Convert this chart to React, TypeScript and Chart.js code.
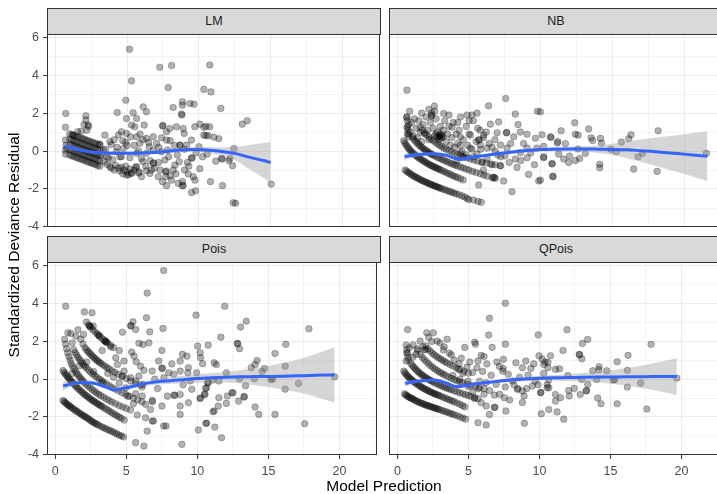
import React, { useEffect, useRef } from "react";
import { Chart, registerables } from "chart.js";
Chart.register(...registerables);

const FONT = '"Liberation Sans", Arial, Helvetica, sans-serif';
Chart.defaults.font.family = FONT;

// ---------- axes ----------
const xMajorTicks = [0, 5, 10, 15, 20];
const xMinorTicks = [2.5, 7.5, 12.5, 17.5, 22.5];
const yMajorTicks = [-4, -2, 0, 2, 4, 6];
const yMinorTicks = [-3, -1, 1, 3, 5];
const xRange = [-0.58, 22.62];
const yRange = [-4.0, 6.17];
const panelTitles = ["LM", "NB", "Pois", "QPois"];
const xAxisTitle = "Model Prediction";
const yAxisTitle = "Standardized Deviance Residual";

// ---------- LM ----------
const lmBandX = [1.0, 1.15, 1.3, 1.45, 1.6, 1.75, 1.9, 2.05, 2.2, 2.35, 2.5, 2.65, 2.8, 2.95, 3.1];
const lmBand0 = [-0.21, -0.25, -0.29, -0.34, -0.38, -0.42, -0.46, -0.5, -0.55, -0.59, -0.63, -0.67, -0.71, -0.76, -0.8];
const lmBand1 = [0.07, 0.03, -0.01, -0.06, -0.1, -0.14, -0.18, -0.22, -0.27, -0.31, -0.35, -0.39, -0.43, -0.48, -0.52];
const lmBand2 = [0.35, 0.31, 0.27, 0.22, 0.18, 0.14, 0.1, 0.06, 0.01, -0.03, -0.07, -0.11, -0.15, -0.2, -0.24];
const lmBand3 = [0.63, 0.59, 0.55, 0.5, 0.46, 0.42, 0.38, 0.34, 0.29, 0.25, 0.21, 0.17, 0.13, 0.08, 0.04];
const lmBand4 = [0.91, 0.87, 0.83, 0.78, 0.74, 0.7, 0.66, 0.62, 0.57, 0.53, 0.49, 0.45, 0.41, 0.36, 0.32];
const lmScatter = [
  [0.73, 1.98], [0.71, 1.25], [0.71, 0.58], [0.71, 0.05], [0.72, -0.16], [0.75, 0.3], [0.8, 0.15],
  [1.24, 0.84], [1.55, 1.02], [2.0, 1.4], [2.13, 1.86], [2.13, 1.63], [2.29, 1.37], [2.3, 1.3], [2.2, 1.1], [1.8, 1.05],
  [3.1, 0.37], [3.45, 0.84], [4.31, 2.03], [4.91, 2.68], [5.17, 5.37], [5.31, 3.7], [4.96, 1.72], [5.42, 2.02],
  [5.66, 1.72], [6.12, 2.33], [6.35, 2.07], [6.19, 1.37], [5.31, 1.37], [5.54, 1.28], [4.61, 1.02], [4.96, 0.93],
  [5.24, 0.75], [5.66, 0.75], [5.89, 0.4], [6.35, 0.67], [6.82, 0.75], [7.05, 0.4], [7.28, 4.42], [8.1, 4.51],
  [7.86, 3.35], [8.21, 2.3], [7.47, 1.32], [7.5, 1.35], [7.75, 1.02], [7.98, 1.19], [8.44, 1.28], [8.86, 2.6],
  [8.86, 2.42], [8.79, 1.95], [8.82, 1.9], [8.91, 1.19], [8.98, 0.93], [9.38, 2.51], [9.66, 2.47], [10.76, 4.54],
  [10.35, 3.25], [10.84, 3.12], [11.53, 2.25], [10.07, 1.42], [10.35, 1.25], [10.76, 1.28], [9.72, 1.28], [10.5, 1.3],
  [9.15, 0.32], [9.49, 0.58], [10.0, 0.23], [10.35, 0.84], [10.5, 0.82], [10.65, 0.81], [11.05, 0.73], [11.39, 0.65],
  [12.44, 0.14], [12.16, -0.39], [12.35, -0.77], [11.58, -0.39], [11.62, -0.42], [11.18, -0.53], [10.26, -0.3],
  [10.58, -0.16], [10.81, -1.61], [11.65, -1.82], [12.39, -2.72], [12.56, -2.75], [10.07, -0.93], [9.49, -0.35],
  [9.52, -0.38], [9.61, -1.35], [9.72, -1.53], [9.49, -2.19], [9.77, -2.09], [9.26, -1.21], [8.86, -1.61],
  [8.86, -1.84], [8.9, -1.8], [8.56, -1.7], [8.21, -1.0], [8.33, -0.74], [8.63, -0.56], [8.68, 0.32], [8.7, 0.3],
  [7.75, 0.58], [7.82, 0.05], [7.4, -0.04], [7.63, -0.47], [7.7, -1.09], [7.72, -1.05], [7.7, -1.35], [7.47, -1.61],
  [7.75, -1.82], [8.1, -1.53], [7.17, -1.35], [6.82, -0.65], [6.85, -0.62], [6.82, 0.05], [6.54, 0.23], [6.35, -0.12],
  [6.7, -1.0], [6.35, -1.04], [6.0, -1.35], [5.84, -1.09], [5.66, -0.82], [4.5, -0.3], [4.26, -0.04], [4.73, 0.14],
  [3.8, -0.82], [3.57, -0.3], [3.34, 0.05], [5.66, -0.12], [6.0, -0.39], [6.59, -1.18], [13.02, 1.42], [13.37, 1.6],
  [12.09, -0.51], [15.04, -1.74], [4.2, -0.75], [4.4, -0.9], [4.6, -0.85], [4.8, -1.0], [4.9, -0.8], [5.0, -1.1],
  [5.2, -0.95], [5.3, -1.15], [5.5, -1.0], [5.6, -0.85], [5.8, -1.15], [4.5, -1.05], [4.7, -1.2], [5.1, -1.25],
  [3.9, -0.9], [4.1, -1.0], [3.6, -0.7], [3.4, -0.55], [3.2, -0.2], [3.5, 0.1], [3.7, -0.35], [4.0, -0.45],
  [3.9, 0.35], [4.3, 0.2], [4.6, -0.3], [4.9, 0.45], [5.2, -0.35], [5.5, 0.3], [5.8, 0.0], [6.1, -0.55], [6.3, -0.8],
  [6.6, -0.5], [4.96, -1.26], [5.31, -1.18], [4.1, 0.6], [4.4, 0.85], [3.8, 0.5], [4.7, 0.55], [5.0, 0.3],
  [5.9, 0.9], [6.1, 0.6], [6.5, 0.45], [7.2, 0.2], [7.4, 0.7], [8.0, 0.55], [8.3, 0.3], [9.0, 0.1], [9.2, -0.6],
  [9.8, -0.1], [8.5, -0.2], [7.9, -0.3], [7.2, -0.6], [6.9, -0.9], [7.3, -1.0], [8.0, -1.3], [8.4, -1.2],
  [9.0, -1.0], [9.3, -0.8],
];
const lmSmoothX = [0.7, 1.5, 2.5, 3.5, 4.5, 5.5, 6.5, 7.5, 8.5, 9.5, 10.5, 11.5, 12.5, 13.5, 14.5, 15.0];
const lmSmoothY = [0.28, 0.1, -0.05, -0.1, -0.12, -0.12, -0.08, -0.03, 0.05, 0.08, 0.06, -0.01, -0.12, -0.32, -0.5, -0.6];
const lmLower = [0.11, 0.0, -0.13, -0.18, -0.2, -0.21, -0.18, -0.14, -0.07, -0.05, -0.09, -0.21, -0.45, -0.95, -1.42, -1.72];
const lmUpper = [0.45, 0.2, 0.03, -0.02, -0.04, -0.03, 0.02, 0.08, 0.17, 0.21, 0.21, 0.19, 0.21, 0.32, 0.42, 0.48];

// ---------- NB ----------
const nbArc0X = [0.55, 0.65, 0.75, 0.85, 0.95, 1.05, 1.15, 1.25, 1.35, 1.45, 1.55, 1.65, 1.75, 1.85, 1.95, 2.05, 2.15, 2.25, 2.35, 2.45, 2.55, 2.65, 2.75, 2.85, 2.95, 3.05, 3.2, 3.35, 3.5, 3.65, 3.8, 3.95, 4.1, 4.3, 4.5, 4.7, 4.86, 4.98, 5.3, 5.62, 5.85];
const nbArc0Y = [-1.0, -1.06, -1.12, -1.17, -1.22, -1.27, -1.32, -1.36, -1.4, -1.44, -1.48, -1.52, -1.56, -1.59, -1.63, -1.66, -1.7, -1.73, -1.76, -1.79, -1.82, -1.85, -1.88, -1.91, -1.94, -1.97, -2.01, -2.05, -2.09, -2.13, -2.17, -2.21, -2.25, -2.3, -2.36, -2.42, -2.5, -2.55, -2.58, -2.65, -2.7];
const nbArc1X = [0.45, 0.52, 0.6, 0.68, 0.76, 0.84, 0.92, 1.0, 1.1, 1.2, 1.3, 1.4, 1.5, 1.6, 1.7, 1.8, 1.9, 2.0, 2.1, 2.2, 2.3, 2.4, 2.5, 2.6, 2.7, 2.8, 2.9, 3.0, 3.15, 3.3, 3.45, 3.6, 3.75, 3.9, 4.05, 4.2, 4.4, 4.6];
const nbArc1Y = [0.55, 0.44, 0.34, 0.25, 0.17, 0.09, 0.02, -0.04, -0.11, -0.18, -0.24, -0.3, -0.36, -0.41, -0.46, -0.51, -0.56, -0.6, -0.65, -0.69, -0.74, -0.77, -0.81, -0.85, -0.88, -0.92, -0.95, -0.99, -1.04, -1.09, -1.15, -1.2, -1.25, -1.3, -1.35, -1.4, -1.46, -1.52];
const nbArc2X = [1.05, 1.15, 1.25, 1.35, 1.45, 1.55, 1.65, 1.75, 1.85, 1.95, 2.05, 2.15, 2.25, 2.35, 2.45, 2.55, 2.7, 2.85, 3.0, 3.15, 3.3, 3.45, 3.6, 3.75, 3.9, 4.05, 4.2, 4.4, 4.6, 4.8, 5.0, 5.25, 5.5, 5.78, 6.02, 6.25, 6.6, 6.83];
const nbArc2Y = [0.72, 0.62, 0.53, 0.45, 0.37, 0.3, 0.23, 0.17, 0.11, 0.05, 0.0, -0.05, -0.1, -0.15, -0.19, -0.23, -0.29, -0.35, -0.4, -0.45, -0.5, -0.55, -0.6, -0.65, -0.7, -0.74, -0.78, -0.84, -0.89, -0.95, -1.0, -1.07, -1.13, -1.2, -1.26, -1.32, -1.4, -1.44];
const nbArc3X = [1.6, 1.75, 1.9, 2.05, 2.2, 2.35, 2.5, 2.65, 2.8, 2.95, 3.1, 3.25, 3.4, 3.6, 3.8, 4.0, 4.2, 4.4, 4.6, 4.85, 5.1, 5.35, 5.6, 5.9, 6.2, 6.5, 6.8, 7.18];
const nbArc3Y = [1.25, 1.1, 0.97, 0.85, 0.74, 0.64, 0.55, 0.46, 0.38, 0.3, 0.23, 0.16, 0.1, 0.02, -0.05, -0.12, -0.18, -0.24, -0.3, -0.36, -0.42, -0.48, -0.53, -0.58, -0.63, -0.68, -0.72, -0.77];
const nbScatter = [
  [0.67, 3.21], [0.86, 2.1], [0.67, 1.77], [0.67, 1.23], [2.58, 2.37], [2.6, 2.1], [2.37, 1.84], [2.4, 1.88],
  [3.23, 1.98], [4.86, 1.9], [5.2, 1.9], [5.55, 2.0], [6.36, 2.39], [7.55, 2.77], [7.06, 1.54], [8.22, 1.95],
  [9.76, 2.1], [8.41, 1.4], [7.6, 0.96], [7.62, 0.98], [6.95, 0.96], [6.48, 1.42], [8.11, 0.75], [8.57, 1.0],
  [9.04, 0.89], [9.62, 0.68], [10.08, 0.86], [10.66, 0.75], [5.78, 1.1], [6.02, 0.84], [5.67, 0.58], [5.7, 0.6],
  [5.09, 0.84], [4.39, 0.75], [3.81, 1.26], [5.55, -0.16], [6.25, -0.42], [6.6, -0.72], [7.18, -0.77], [6.71, -1.4],
  [6.74, -1.38], [7.41, -1.58], [7.99, -2.14], [5.67, -1.79], [8.57, -0.09], [8.22, -0.42], [8.34, -0.86],
  [9.04, -0.35], [9.55, -0.72], [9.15, -1.23], [9.85, -1.58], [10.78, -0.68], [10.85, -1.35], [10.2, -0.35],
  [9.73, 0.16], [9.04, 0.16], [7.64, 0.16], [7.18, 0.32], [6.83, -0.02], [6.25, 0.16], [5.78, 0.32], [5.09, 0.16],
  [4.62, -0.33], [4.39, 0.3], [4.16, -0.5], [7.2, -0.3], [7.5, -0.25],
  [12.36, 1.49], [11.41, 1.07], [13.33, 1.16], [12.4, 0.89], [12.6, 0.84], [10.71, 0.72], [13.5, 0.7], [13.6, 0.56],
  [14.15, 0.67], [14.22, 0.42], [15.61, 0.47], [16.12, 0.65], [16.28, 0.86], [18.17, 1.07], [11.15, 0.42],
  [11.18, 0.5], [11.71, 0.39], [10.2, 0.25], [9.97, 2.07], [10.2, -0.3], [10.78, -0.65], [10.83, -1.32],
  [9.97, -1.53], [11.24, -0.16], [11.59, -0.42], [11.94, -0.6], [12.0, -0.26], [12.4, -0.5], [12.7, -0.39],
  [13.1, -0.12], [12.59, 0.11], [14.1, -0.7], [14.1, -0.88], [14.89, 0.09], [15.26, -0.03], [16.47, -0.95],
  [16.77, -0.3], [17.09, -0.12], [18.1, -1.07], [21.53, -0.12],
  [0.7, 0.9], [0.8, 1.4], [0.9, 1.0], [1.0, 1.5], [1.1, 0.8], [1.3, 1.2], [1.4, 0.7], [1.5, 1.6], [1.6, 1.0],
  [1.7, 0.5], [1.8, 1.4], [1.9, 0.9], [2.0, 1.8], [2.1, 1.1], [2.2, 0.6], [2.3, 1.5], [2.4, 2.0], [2.5, 1.2],
  [2.6, 0.8], [2.7, 1.7], [2.8, 1.0], [2.9, 0.6], [3.0, 1.3], [3.0, 0.9], [3.1, 0.7], [3.2, 1.1], [3.3, 1.6],
  [3.4, 0.5], [3.5, 0.9], [3.6, 1.3], [3.7, 0.3], [3.8, 0.7], [3.9, 1.5], [4.0, 0.2], [4.1, 0.9], [4.2, 0.4],
  [4.3, 1.1], [4.5, 0.0], [4.6, 0.6], [4.8, 1.3], [4.9, 0.3], [5.0, 0.9], [5.2, 0.1], [5.3, 1.6], [5.5, 0.5],
  [5.6, 1.2], [5.8, 0.1], [6.0, 0.7], [6.2, 1.0], [6.4, 0.4], [2.8, 0.75], [2.9, 0.8], [3.1, 0.85], [2.7, 0.9],
  [3.2, 0.75], [3.0, 0.7], [2.95, 0.78], [0.65, 1.8], [0.7, 1.6], [0.72, 1.3], [0.75, 1.1], [0.78, 0.9], [0.8, 0.75],
  [1.2, 1.7], [1.7, 2.0], [2.2, 2.2], [3.6, 1.9], [4.4, 1.8], [4.2, 1.5], [5.0, 1.6], [6.8, 0.6], [7.9, 0.4],
  [8.8, 0.4], [9.3, -0.1], [6.6, 0.2], [7.0, -0.2], [7.8, -0.6], [8.6, -0.5], [5.9, -0.6], [6.0, -1.0], [5.3, -0.3],
  [4.8, -0.2], [4.4, -0.1],
];
const nbSmoothX = [0.5, 1.0, 1.5, 2.0, 2.5, 3.0, 3.5, 4.0, 4.3, 5.0, 6.0, 7.0, 8.0, 9.0, 10.0, 11.0, 12.0, 13.0, 14.0, 15.0, 16.0, 17.0, 18.0, 19.0, 20.0, 21.0, 21.6];
const nbSmoothY = [-0.3, -0.23, -0.18, -0.15, -0.14, -0.17, -0.24, -0.38, -0.44, -0.35, -0.24, -0.14, -0.05, 0.03, 0.08, 0.1, 0.11, 0.11, 0.1, 0.09, 0.07, 0.02, -0.03, -0.1, -0.16, -0.23, -0.27];
const nbLower = [-0.5, -0.35, -0.28, -0.23, -0.22, -0.25, -0.32, -0.46, -0.52, -0.43, -0.32, -0.23, -0.14, -0.07, -0.02, -0.01, -0.01, -0.03, -0.1, -0.21, -0.38, -0.58, -0.78, -1.0, -1.21, -1.45, -1.59];
const nbUpper = [-0.1, -0.11, -0.08, -0.07, -0.06, -0.09, -0.16, -0.3, -0.36, -0.27, -0.16, -0.05, 0.04, 0.13, 0.18, 0.21, 0.23, 0.25, 0.3, 0.39, 0.52, 0.62, 0.72, 0.8, 0.89, 0.99, 1.05];

// ---------- Pois ----------
const poisArc0X = [0.55, 0.62, 0.7, 0.78, 0.86, 0.94, 1.02, 1.1, 1.2, 1.3, 1.4, 1.5, 1.6, 1.7, 1.8, 1.9, 2.0, 2.1, 2.2, 2.3, 2.4, 2.5, 2.6, 2.7, 2.8, 2.9, 3.0, 3.15, 3.3, 3.45, 3.6, 3.75, 3.9, 4.05, 4.2, 4.35, 4.5, 4.65, 4.8];
const poisArc0Y = [-1.13, -1.18, -1.24, -1.29, -1.34, -1.39, -1.43, -1.47, -1.53, -1.58, -1.64, -1.69, -1.74, -1.79, -1.84, -1.89, -1.94, -1.98, -2.03, -2.08, -2.13, -2.19, -2.24, -2.29, -2.33, -2.37, -2.41, -2.47, -2.53, -2.58, -2.63, -2.68, -2.73, -2.78, -2.84, -2.89, -2.95, -3.0, -3.05];
const poisArc1X = [0.55, 0.62, 0.7, 0.78, 0.85, 0.92, 1.0, 1.08, 1.15, 1.23, 1.3, 1.4, 1.5, 1.6, 1.7, 1.8, 1.9, 2.0, 2.1, 2.2, 2.3, 2.4, 2.5, 2.6, 2.7, 2.8, 2.9, 3.0, 3.1, 3.2, 3.3, 3.45, 3.6, 3.75, 3.9, 4.05, 4.2, 4.35, 4.5, 4.65, 4.85];
const poisArc1Y = [0.45, 0.36, 0.28, 0.21, 0.14, 0.07, 0.0, -0.07, -0.13, -0.19, -0.25, -0.34, -0.42, -0.49, -0.56, -0.63, -0.7, -0.77, -0.83, -0.88, -0.94, -1.0, -1.06, -1.11, -1.16, -1.21, -1.26, -1.31, -1.36, -1.4, -1.45, -1.52, -1.59, -1.66, -1.73, -1.8, -1.87, -1.94, -2.0, -2.07, -2.16];
const poisArc2X = [0.66, 0.72, 0.8, 0.88, 0.96, 1.05, 1.13, 1.22, 1.32, 1.42, 1.52, 1.62, 1.72, 1.82, 1.92, 2.02, 2.15, 2.3, 2.45, 2.6, 2.75, 2.9, 3.05, 3.2, 3.4, 3.6, 3.8, 4.0, 4.25, 4.5, 4.75, 5.0, 5.3];
const poisArc2Y = [2.1, 1.85, 1.6, 1.38, 1.18, 1.0, 0.82, 0.68, 0.55, 0.42, 0.3, 0.2, 0.1, 0.01, -0.08, -0.16, -0.26, -0.36, -0.46, -0.55, -0.64, -0.72, -0.8, -0.87, -0.96, -1.05, -1.13, -1.21, -1.3, -1.39, -1.47, -1.55, -1.63];
const poisArc3X = [1.3, 1.4, 1.5, 1.6, 1.7, 1.8, 1.9, 2.0, 2.1, 2.2, 2.35, 2.5, 2.65, 2.8, 2.95, 3.1, 3.25, 3.4, 3.6, 3.8, 4.0, 4.2, 4.45, 4.7, 4.95, 5.2, 5.5, 5.8, 6.1];
const poisArc3Y = [1.55, 1.4, 1.27, 1.15, 1.04, 0.94, 0.84, 0.75, 0.66, 0.58, 0.47, 0.36, 0.26, 0.17, 0.08, 0.0, -0.08, -0.16, -0.26, -0.35, -0.44, -0.52, -0.62, -0.72, -0.81, -0.9, -1.0, -1.1, -1.2];
const poisArc4X = [1.8, 1.95, 2.1, 2.2, 2.3, 2.4, 2.5, 2.6, 2.7, 2.8, 2.9, 3.0, 3.1, 3.2, 3.35, 3.5, 3.65, 3.8, 4.0, 4.2, 4.45, 4.7, 5.0, 5.3, 5.66, 6.1];
const poisArc4Y = [2.1, 1.85, 1.65, 1.55, 1.46, 1.38, 1.3, 1.22, 1.15, 1.08, 1.01, 0.95, 0.89, 0.83, 0.75, 0.68, 0.6, 0.53, 0.44, 0.35, 0.25, 0.15, 0.03, -0.1, -0.25, -0.42];
const poisArc5X = [2.2, 2.35, 2.5, 2.65, 2.8, 2.95, 3.1, 3.25, 3.4, 3.55, 3.7, 3.9, 4.1];
const poisArc5Y = [3.0, 2.85, 2.72, 2.6, 2.48, 2.37, 2.27, 2.17, 2.07, 1.98, 1.9, 1.78, 1.66];
const poisScatter = [
  [0.73, 3.84], [0.89, 2.44], [2.05, 3.54], [2.59, 3.49], [2.4, 2.8], [2.45, 2.79], [2.67, 2.79], [3.1, 2.26],
  [3.52, 2.0], [3.6, 1.95], [4.26, 1.12], [4.38, 0.77], [4.84, 0.95], [4.73, 2.47], [5.31, 2.82], [5.33, 2.8],
  [5.47, 3.02], [5.66, 2.61], [6.47, 4.53], [6.42, 3.23], [6.65, 2.49], [5.89, 1.89], [6.17, 1.82], [6.59, 1.91],
  [7.63, 5.72], [7.58, 2.67], [7.51, 1.51], [5.38, 1.42], [5.54, 1.21], [5.7, 0.91], [6.0, 0.68], [6.24, 0.46],
  [6.82, 0.42], [7.28, 0.95], [7.51, 0.56], [7.53, 0.58], [7.65, 0.07], [7.98, 0.33], [8.33, 0.25], [5.89, 0.16],
  [4.84, 0.42], [4.73, 0.16], [5.31, 0.07], [5.66, -0.1], [6.17, -0.28], [4.96, -0.46], [5.66, -0.77], [6.12, -0.89],
  [6.82, -1.12], [6.84, -1.2], [7.51, -1.42], [6.35, -1.33], [6.35, -2.04], [6.7, -1.6], [5.77, -1.89], [6.82, -2.21],
  [6.92, -2.21], [7.63, -2.47], [7.8, -2.47], [6.47, -2.74], [5.66, -3.35], [6.24, -3.53], [8.37, -0.84], [8.4, -0.86],
  [8.79, -0.81], [8.79, -1.42], [8.79, -1.86], [8.91, -3.44], [9.37, -1.25], [9.61, -0.54], [9.49, -0.1], [8.95, 1.3],
  [9.26, 1.21], [8.79, 0.95], [8.79, 0.42], [9.37, 0.6], [9.33, 0.33], [9.91, 3.37], [10.02, 1.74], [10.19, 1.39],
  [10.23, 1.12], [10.37, 0.81], [10.76, 1.79], [9.95, 0.33], [10.19, -1.02], [10.22, -1.0], [10.07, -2.68],
  [10.65, -2.33], [10.49, -0.81], [10.65, -0.46], [10.76, -0.19], [11.18, 0.86], [11.34, 0.77], [11.65, 2.21],
  [11.93, 3.84], [11.51, -0.98], [11.47, -1.42], [11.18, -1.68], [11.23, -2.53], [11.7, -3.09], [12.11, -0.89],
  [12.04, -1.28], [12.51, -0.72],
  [13.44, 3.05], [13.04, 2.74], [17.85, 2.65], [16.22, 1.83], [15.46, 1.35], [12.81, 1.88], [12.84, 1.86],
  [12.97, 1.6], [14.2, 0.98], [14.06, 0.77], [13.79, 0.6], [14.72, 0.56], [14.55, 0.39], [16.18, 0.68], [12.04, 0.33],
  [12.97, 0.02], [14.02, 0.02], [15.18, -0.02], [15.3, 0.0], [13.39, -0.35], [16.18, -0.53], [17.11, -0.23],
  [19.66, 0.12], [10.72, -0.19], [10.58, -0.49], [10.54, -0.79], [11.51, -0.1], [11.1, -0.05], [12.44, -0.72],
  [12.9, -1.16], [13.28, -0.95], [13.3, -0.92], [14.06, -1.47], [14.32, -1.86], [15.46, -1.86], [17.55, -2.35],
  [11.1, -1.72], [10.6, -2.33],
  [1.45, 2.26], [1.99, 2.35], [3.03, 2.35], [3.5, 2.0], [1.1, 2.4], [1.2, 1.9], [1.6, 2.6], [3.3, 1.5], [3.9, 1.7],
  [4.5, 1.5], [4.1, 0.1], [4.5, -0.2], [5.1, -0.9], [5.5, -1.3], [6.0, -0.3], [7.0, 0.0], [7.2, -0.5], [7.9, -0.9],
  [8.2, 0.8], [9.0, -0.3], [3.3, -0.2], [3.7, 0.3], [2.7, 0.4], [2.2, 0.9], [1.7, 0.7], [1.2, 0.3],
];
const poisSmoothX = [0.55, 1.0, 1.5, 2.0, 2.5, 3.0, 3.5, 4.0, 4.3, 4.6, 5.0, 5.5, 6.0, 7.0, 8.0, 9.0, 10.0, 11.0, 12.0, 13.0, 14.0, 15.0, 16.0, 17.0, 18.0, 19.0, 19.66];
const poisSmoothY = [-0.37, -0.28, -0.2, -0.18, -0.19, -0.27, -0.4, -0.54, -0.58, -0.52, -0.46, -0.37, -0.28, -0.16, -0.09, -0.03, 0.03, 0.07, 0.1, 0.12, 0.13, 0.14, 0.15, 0.17, 0.19, 0.21, 0.22];
const poisLower = [-0.62, -0.43, -0.32, -0.28, -0.29, -0.37, -0.51, -0.66, -0.7, -0.64, -0.58, -0.49, -0.4, -0.3, -0.26, -0.23, -0.19, -0.18, -0.18, -0.23, -0.32, -0.42, -0.55, -0.68, -0.86, -1.09, -1.24];
const poisUpper = [-0.12, -0.13, -0.08, -0.08, -0.09, -0.17, -0.29, -0.42, -0.46, -0.4, -0.34, -0.25, -0.16, -0.02, 0.08, 0.17, 0.25, 0.32, 0.38, 0.47, 0.58, 0.7, 0.85, 1.02, 1.24, 1.51, 1.68];

// ---------- QPois ----------
const qpArc0X = [0.5, 0.58, 0.66, 0.74, 0.82, 0.9, 0.98, 1.06, 1.15, 1.25, 1.35, 1.45, 1.55, 1.65, 1.75, 1.85, 1.95, 2.05, 2.15, 2.25, 2.35, 2.45, 2.55, 2.65, 2.75, 2.85, 2.95, 3.1, 3.25, 3.4, 3.55, 3.7, 3.85, 4.0, 4.2, 4.4, 4.6, 4.8];
const qpArc0Y = [-0.77, -0.83, -0.87, -0.91, -0.95, -0.98, -1.01, -1.04, -1.08, -1.12, -1.16, -1.2, -1.23, -1.26, -1.29, -1.32, -1.35, -1.38, -1.4, -1.43, -1.45, -1.48, -1.5, -1.53, -1.55, -1.58, -1.6, -1.64, -1.68, -1.72, -1.76, -1.8, -1.84, -1.88, -1.93, -1.99, -2.05, -2.11];
const qpArc1X = [0.45, 0.52, 0.6, 0.68, 0.76, 0.84, 0.92, 1.0, 1.08, 1.16, 1.25, 1.35, 1.45, 1.55, 1.65, 1.75, 1.85, 1.95, 2.05, 2.15, 2.25, 2.35, 2.45, 2.55, 2.65, 2.75, 2.85, 2.95, 3.1, 3.25, 3.4, 3.55, 3.7, 3.85, 4.0, 4.2, 4.4, 4.6, 4.75];
const qpArc1Y = [0.42, 0.34, 0.26, 0.19, 0.13, 0.07, 0.01, -0.04, -0.09, -0.14, -0.19, -0.25, -0.3, -0.35, -0.4, -0.44, -0.49, -0.53, -0.57, -0.61, -0.65, -0.68, -0.72, -0.75, -0.78, -0.81, -0.84, -0.87, -0.92, -0.97, -1.01, -1.06, -1.1, -1.15, -1.2, -1.26, -1.33, -1.4, -1.47];
const qpArc2X = [0.95, 1.05, 1.15, 1.25, 1.35, 1.45, 1.55, 1.65, 1.75, 1.85, 1.95, 2.05, 2.15, 2.25, 2.35, 2.45, 2.6, 2.75, 2.9, 3.05, 3.2, 3.35, 3.5, 3.65, 3.8, 4.0, 4.2, 4.4, 4.6, 4.8, 5.0, 5.2, 5.44, 5.67];
const qpArc2Y = [0.82, 0.72, 0.63, 0.55, 0.47, 0.4, 0.33, 0.27, 0.21, 0.15, 0.1, 0.05, 0.0, -0.04, -0.08, -0.12, -0.18, -0.24, -0.29, -0.34, -0.39, -0.44, -0.48, -0.52, -0.56, -0.62, -0.67, -0.72, -0.77, -0.82, -0.87, -0.92, -0.98, -1.03];
const qpArc3X = [1.6, 1.75, 1.9, 2.05, 2.2, 2.35, 2.5, 2.65, 2.8, 2.95, 3.1, 3.25, 3.4, 3.6, 3.8, 4.0, 4.2, 4.4, 4.6, 4.9, 5.2, 5.5, 5.8, 6.1];
const qpArc3Y = [1.3, 1.15, 1.02, 0.91, 0.8, 0.7, 0.61, 0.53, 0.45, 0.38, 0.31, 0.25, 0.19, 0.11, 0.04, -0.03, -0.09, -0.15, -0.2, -0.27, -0.34, -0.4, -0.46, -0.51];
const qpArc4X = [2.0, 2.15, 2.3, 2.45, 2.6, 2.75, 2.9, 3.05, 3.2, 3.35, 3.5, 3.7, 3.9, 4.15, 4.4, 4.7, 5.0];
const qpArc4Y = [1.75, 1.6, 1.48, 1.37, 1.28, 1.2, 1.12, 1.05, 0.98, 0.91, 0.85, 0.77, 0.69, 0.6, 0.51, 0.41, 0.31];
const qpScatter = [
  [0.72, 2.61], [0.84, 1.65], [0.67, 1.39], [0.62, 0.95], [0.62, 1.8], [0.66, 1.55], [0.7, 1.35], [0.74, 1.15],
  [0.8, 1.0], [2.07, 2.44], [2.53, 2.44], [2.42, 1.98], [3.0, 1.9], [1.4, 1.6], [1.41, 1.51], [2.0, 1.56],
  [1.1, 1.16], [1.9, 1.55], [3.23, 1.54], [3.65, 1.37], [3.8, 1.28], [4.74, 1.67], [5.44, 1.95], [5.5, 1.84],
  [6.48, 3.2], [6.43, 2.32], [7.6, 4.0], [7.6, 1.84], [6.67, 1.67], [5.9, 1.25], [6.1, 1.19], [5.67, 0.95],
  [7.46, 1.04], [4.9, 0.63], [4.34, 0.81], [4.3, 0.51], [7.18, 0.67], [7.41, 0.42], [7.45, 0.56], [8.34, 0.86],
  [8.8, 0.6], [9.04, 0.95], [9.39, 0.56], [9.92, 2.33], [9.97, 1.23], [10.2, 1.05], [10.78, 1.23], [10.31, 0.77],
  [11.13, 0.51], [4.39, -0.02], [4.97, -0.11], [5.78, -0.11], [6.25, -0.19], [6.95, -0.28], [7.6, -0.42],
  [8.45, -0.54], [8.48, -0.5], [8.8, -0.63], [8.92, -0.89], [8.8, -1.24], [9.5, -0.37], [9.7, -0.11], [10.08, -0.72],
  [10.1, -0.7], [10.54, -0.46], [11.13, -0.81], [11.13, -1.16], [10.66, -1.6], [10.13, -1.83], [6.83, -0.84],
  [6.83, -1.5], [6.86, -1.48], [6.48, -1.86], [7.53, -0.98], [7.64, -1.68], [6.25, -1.42], [5.9, -1.24], [5.44, -1.02],
  [5.67, -2.3], [6.25, -2.42], [8.94, -2.33],
  [11.94, 2.6], [13.4, 2.09], [13.03, 1.88], [11.66, 1.51], [12.8, 1.3], [12.83, 1.28], [12.98, 1.07], [17.86, 1.83],
  [16.24, 1.25], [15.47, 0.91], [16.19, 0.46], [14.2, 0.65], [14.18, 0.49], [13.75, 0.44], [14.73, 0.44],
  [11.41, 0.54], [10.4, 0.9], [10.6, 0.88], [10.6, 0.6], [12.01, 0.18], [12.98, -0.02], [14.03, -0.02],
  [15.19, -0.05], [15.3, -0.03], [13.4, -0.28], [13.29, -0.63], [13.32, -0.6], [12.87, -0.81], [12.45, -0.49],
  [12.06, -0.6], [12.1, -0.89], [10.66, -0.04], [10.54, -0.3], [10.66, -0.46], [11.48, -0.98], [11.24, -1.73],
  [11.71, -2.11], [14.1, -1.0], [14.33, -1.3], [15.47, -1.3], [16.19, -0.42], [17.12, -0.21], [17.56, -1.58],
  [19.67, 0.05],
  [4.0, 1.0], [4.5, 1.1], [5.1, 0.9], [5.3, 0.35], [5.6, 0.6], [6.0, 0.4], [6.3, 0.8], [6.6, 0.2], [7.0, 0.9],
  [7.8, 0.25], [8.1, -0.1], [8.6, 0.1], [9.2, 0.2], [9.6, 0.8], [3.9, 0.2], [4.6, 0.3], [5.0, -0.4], [5.3, -0.7],
  [5.7, -0.5], [6.1, -0.8], [6.5, -0.6], [7.2, -0.8], [7.9, -1.1], [8.2, -0.3], [9.1, -0.5], [9.9, -0.3],
  [10.3, 0.3], [3.3, 1.7], [2.8, 2.0], [3.5, 2.1], [1.6, 2.0], [1.1, 1.8], [1.3, 1.3], [1.8, 1.7], [2.2, 2.2],
];
const qpSmoothX = [0.55, 1.0, 1.5, 2.0, 2.5, 3.0, 3.5, 4.0, 4.3, 4.6, 5.0, 5.5, 6.0, 7.0, 8.0, 9.0, 10.0, 11.0, 12.0, 13.0, 14.0, 15.0, 16.0, 17.0, 18.0, 19.0, 19.67];
const qpSmoothY = [-0.23, -0.16, -0.11, -0.07, -0.05, -0.1, -0.22, -0.38, -0.4, -0.36, -0.31, -0.25, -0.21, -0.12, -0.05, 0.0, 0.04, 0.07, 0.08, 0.1, 0.11, 0.11, 0.12, 0.12, 0.13, 0.13, 0.13];
const qpLower = [-0.41, -0.28, -0.21, -0.15, -0.13, -0.18, -0.3, -0.46, -0.48, -0.44, -0.39, -0.33, -0.29, -0.22, -0.16, -0.12, -0.09, -0.08, -0.1, -0.12, -0.17, -0.24, -0.33, -0.45, -0.57, -0.73, -0.85];
const qpUpper = [-0.05, -0.04, -0.01, 0.01, 0.03, -0.02, -0.14, -0.3, -0.32, -0.28, -0.23, -0.17, -0.13, -0.02, 0.06, 0.12, 0.17, 0.22, 0.26, 0.32, 0.39, 0.46, 0.57, 0.69, 0.83, 0.99, 1.11];

// ---------- helpers ----------
const zip = (xs: number[], ys: number[]) => xs.map((x, i) => [x, ys[i]]);

const lmPoints = [
  ...zip(lmBandX, lmBand0), ...zip(lmBandX, lmBand1), ...zip(lmBandX, lmBand2),
  ...zip(lmBandX, lmBand3), ...zip(lmBandX, lmBand4), ...lmScatter,
];
const nbPoints = [
  ...zip(nbArc0X, nbArc0Y), ...zip(nbArc1X, nbArc1Y), ...zip(nbArc2X, nbArc2Y), ...zip(nbArc3X, nbArc3Y), ...nbScatter,
];
const poisPoints = [
  ...zip(poisArc0X, poisArc0Y), ...zip(poisArc1X, poisArc1Y), ...zip(poisArc2X, poisArc2Y),
  ...zip(poisArc3X, poisArc3Y), ...zip(poisArc4X, poisArc4Y), ...zip(poisArc5X, poisArc5Y), ...poisScatter,
];
const qpPoints = [
  ...zip(qpArc0X, qpArc0Y), ...zip(qpArc1X, qpArc1Y), ...zip(qpArc2X, qpArc2Y),
  ...zip(qpArc3X, qpArc3Y), ...zip(qpArc4X, qpArc4Y), ...qpScatter,
];

type Panel = {
  title: string; points: number[][]; sx: number[]; sy: number[]; lo: number[]; hi: number[];
  left: number; top: number; width: number; height: number;
  showX: boolean; showY: boolean; padTop: number; padBottom: number;
};

// chart areas: col1 x 47..380, col2 x 389..722 ; row1 y 34..227, row2 y 262..455
const panels: Panel[] = [
  { title: panelTitles[0], points: lmPoints, sx: lmSmoothX, sy: lmSmoothY, lo: lmLower, hi: lmUpper,
    left: 0, top: 14, width: 380, height: 233, showX: false, showY: true, padTop: 20, padBottom: 20 },
  { title: panelTitles[1], points: nbPoints, sx: nbSmoothX, sy: nbSmoothY, lo: nbLower, hi: nbUpper,
    left: 389, top: 34, width: 333, height: 193, showX: false, showY: false, padTop: 0, padBottom: 0 },
  { title: panelTitles[2], points: poisPoints, sx: poisSmoothX, sy: poisSmoothY, lo: poisLower, hi: poisUpper,
    left: 0, top: 242, width: 380, height: 243, showX: true, showY: true, padTop: 20, padBottom: 0 },
  { title: panelTitles[3], points: qpPoints, sx: qpSmoothX, sy: qpSmoothY, lo: qpLower, hi: qpUpper,
    left: 389, top: 262, width: 333, height: 223, showX: true, showY: false, padTop: 0, padBottom: 0 },
];

const borderPlugin = {
  id: "panelBorder",
  afterDatasetsDraw(chart: any) {
    const { ctx, chartArea: a } = chart;
    ctx.save();
    ctx.strokeStyle = "#333333";
    ctx.lineWidth = 1;
    ctx.strokeRect(Math.round(a.left) + 0.5, Math.round(a.top) + 0.5,
      Math.round(a.right - a.left) - 1, Math.round(a.bottom - a.top) - 1);
    ctx.restore();
  },
};

const isIn = (arr: number[], v: number) => arr.some((t) => Math.abs(t - v) < 1e-6);

function makeConfig(p: Panel): any {
  const xTicks = [...xMajorTicks, ...xMinorTicks].sort((a, b) => a - b);
  const yTicks = [...yMajorTicks, ...yMinorTicks].sort((a, b) => a - b);
  const gridOpts = (major: number[], showTicks: boolean) => ({
    color: "#EBEBEB",
    lineWidth: (c: any) => (c.tick && isIn(major, c.tick.value) ? 1.1 : 0.55),
    drawTicks: showTicks,
    tickLength: 4,
    tickWidth: 1,
    tickColor: (c: any) => (c.tick && isIn(major, c.tick.value) ? "#333333" : "rgba(0,0,0,0)"),
  });
  return {
    type: "line",
    data: {
      datasets: [
        {
          data: p.sx.map((x, i) => ({ x, y: p.sy[i] })),
          borderColor: "#3366FF", borderWidth: 3, pointRadius: 0, fill: false,
          cubicInterpolationMode: "monotone", order: 0,
        },
        {
          data: p.sx.map((x, i) => ({ x, y: p.lo[i] })),
          borderColor: "rgba(0,0,0,0)", borderWidth: 0, pointRadius: 0, fill: false,
          cubicInterpolationMode: "monotone", order: 1,
        },
        {
          data: p.sx.map((x, i) => ({ x, y: p.hi[i] })),
          borderColor: "rgba(0,0,0,0)", borderWidth: 0, pointRadius: 0, fill: "-1",
          backgroundColor: "rgba(153,153,153,0.4)", cubicInterpolationMode: "monotone", order: 1,
        },
        {
          data: p.points.map(([x, y]) => ({ x, y })),
          showLine: false, pointRadius: 3.3, pointBackgroundColor: "rgba(0,0,0,0.3)",
          pointBorderColor: "rgba(0,0,0,0.3)", pointBorderWidth: 0.8, order: 2,
        },
      ],
    },
    options: {
      responsive: false, maintainAspectRatio: false, animation: false, devicePixelRatio: 1,
      layout: { autoPadding: false, padding: { top: p.padTop, bottom: p.padBottom, left: 0, right: 0 } },
      plugins: { legend: { display: false }, tooltip: { enabled: false }, title: { display: false } },
      scales: {
        x: {
          type: "linear", min: xRange[0], max: xRange[1],
          afterBuildTicks: (s: any) => { s.ticks = xTicks.map((v) => ({ value: v })); },
          afterFit: (s: any) => { s.height = p.showX ? 30 : 0; },
          grid: gridOpts(xMajorTicks, p.showX),
          border: { display: false },
          ticks: {
            display: p.showX, color: "#4D4D4D", font: { size: 12.5, family: FONT }, padding: 5,
            maxRotation: 0, autoSkip: false,
            callback: (v: number) => (isIn(xMajorTicks, v) ? String(v) : ""),
          },
        },
        y: {
          type: "linear", min: yRange[0], max: yRange[1],
          afterBuildTicks: (s: any) => { s.ticks = yTicks.map((v) => ({ value: v })); },
          afterFit: (s: any) => { s.width = p.showY ? 47 : 0; },
          grid: gridOpts(yMajorTicks, p.showY),
          border: { display: false },
          ticks: {
            display: p.showY, color: "#4D4D4D", font: { size: 12.5, family: FONT }, padding: 4,
            autoSkip: false,
            callback: (v: number) => (isIn(yMajorTicks, v) ? String(v) : ""),
          },
        },
      },
    },
    plugins: [borderPlugin],
  };
}

function PanelChart({ p }: { p: Panel }) {
  const ref = useRef<HTMLCanvasElement | null>(null);
  useEffect(() => {
    if (!ref.current) return;
    const chart = new Chart(ref.current, makeConfig(p));
    return () => chart.destroy();
  }, [p]);
  return (
    <canvas
      ref={ref}
      width={p.width}
      height={p.height}
      style={{ position: "absolute", left: p.left, top: p.top, width: p.width, height: p.height }}
    />
  );
}

const stripRects = [
  { left: 47, top: 8 }, { left: 389, top: 8 }, { left: 47, top: 236 }, { left: 389, top: 236 },
];

export default function App() {
  return (
    <div
      style={{
        position: "absolute", left: 0, top: 0, width: 717, height: 494, overflow: "hidden",
        background: "#ffffff", fontFamily: FONT,
      }}
    >
      {panels.map((p, i) => (
        <PanelChart key={i} p={p} />
      ))}
      {panels.map((p, i) => (
        <div
          key={"s" + i}
          style={{
            position: "absolute", left: stripRects[i].left, top: stripRects[i].top, width: 334, height: 27,
            boxSizing: "border-box", border: "1px solid #333333", background: "#D9D9D9",
            color: "#1A1A1A", fontSize: 12.5, lineHeight: "25px", textAlign: "center",
          }}
        >
          {p.title}
        </div>
      ))}
      <div
        style={{
          position: "absolute", left: 0, width: 768, top: 477, lineHeight: "18px",
          textAlign: "center", fontSize: 15.5, color: "#000",
        }}
      >
        {xAxisTitle}
      </div>
      <div
        style={{
          position: "absolute", left: 14 - 200, top: 245 - 9, width: 400, height: 18, lineHeight: "18px",
          textAlign: "center", fontSize: 15.5, color: "#000", transform: "rotate(-90deg)",
        }}
      >
        {yAxisTitle}
      </div>
    </div>
  );
}
